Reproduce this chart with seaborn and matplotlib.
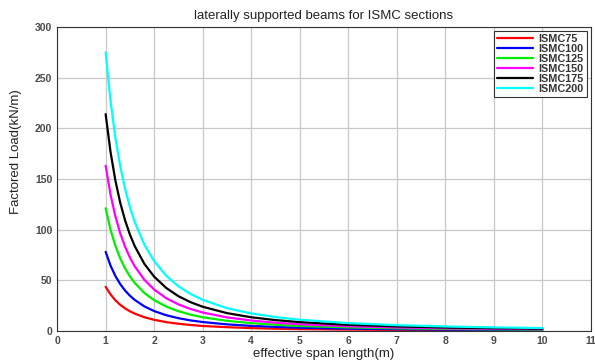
import numpy as np
import pandas as pd
import matplotlib
matplotlib.use("Agg")
import matplotlib.pyplot as plt
import seaborn as sns

span = [1, 1.1, 1.2, 1.3, 1.4, 1.5, 1.6, 1.8, 2, 2.25, 2.5, 2.75, 3, 3.5, 4, 4.5, 5, 6, 7, 8, 9, 10]
ismc75 = [43.5, 36.0, 30.2, 25.7, 22.2, 19.3, 17.0, 13.4, 10.9, 8.6, 7.0, 5.8, 4.8, 3.6, 2.7, 2.1, 1.7, 1.2, 0.9, 0.7, 0.5, 0.4]
ismc100 = [78, 64.5, 54.2, 46.2, 39.8, 34.7, 30.5, 24.1, 19.5, 15.4, 12.5, 10.3, 8.7, 6.4, 4.9, 3.9, 3.1, 2.2, 1.6, 1.2, 1.0, 0.8]
ismc125 = [121, 100, 84.0, 71.6, 61.7, 53.8, 47.3, 37.3, 30.3, 23.9, 19.4, 16.0, 13.4, 9.9, 7.6, 6.0, 4.8, 3.4, 2.5, 1.9, 1.5, 1.2]
ismc150 = [163, 134.7, 113.2, 96.4, 83.2, 72.4, 63.7, 50.3, 40.8, 32.2, 26.1, 21.6, 18.1, 13.3, 10.2, 8.0, 6.5, 4.5, 3.3, 2.5, 2.0, 1.6]
ismc175 = [214, 176.9, 148.6, 126.6, 109.2, 95.1, 83.6, 66.0, 53.5, 42.3, 34.2, 28.3, 23.8, 17.5, 13.4, 10.6, 8.6, 5.9, 4.4, 3.3, 2.6, 2.1]
ismc200 = [275, 227.3, 191.0, 162.7, 140.3, 122.2, 107.4, 84.9, 68.8, 54.3, 44.0, 36.4, 30.6, 22.4, 17.2, 13.6, 11.0, 7.6, 5.6, 4.3, 3.4, 2.8]
sections = ["ISMC75", "ISMC100", "ISMC125", "ISMC150", "ISMC175", "ISMC200"]
colors = ["#ff0000", "#0000ff", "#00ee00", "#ff00ff", "#000000", "#00ffff"]

series = [ismc75, ismc100, ismc125, ismc150, ismc175, ismc200]
rows = []
for name, vals in zip(sections, series):
    for x, y in zip(span, vals):
        rows.append({"span": x, "load": y, "section": name})
df = pd.DataFrame(rows)

sns.set_theme(style="white")
plt.rcParams['font.family'] = ['Liberation Sans', 'DejaVu Sans']

fig = plt.figure(figsize=(5.95, 3.6), dpi=100)
ax = fig.add_axes([0.096, 0.081, 0.897, 0.844])
sns.lineplot(data=df, x="span", y="load", hue="section", hue_order=sections,
             palette=colors, linewidth=1.6, ax=ax, sort=False)

ax.set_xlim(0, 11)
ax.set_ylim(0, 300)
ax.set_xticks(range(0, 12))
ax.set_yticks(range(0, 301, 50))
ax.grid(True, color="#c8c8c8", linewidth=0.9)
ax.tick_params(axis="both", direction="in", labelsize=7.5, length=3, colors="#333333",
               labelcolor="#4a4a4a")
for lab in ax.get_xticklabels() + ax.get_yticklabels():
    lab.set_fontweight("bold")
for s in ax.spines.values():
    s.set_color("#333333")
    s.set_linewidth(0.8)
ax.set_title("laterally supported beams for ISMC sections", fontsize=9.5, pad=6, color="#222222")
ax.set_xlabel("effective span length(m)", fontsize=9.5, labelpad=2, color="#222222")
ax.set_ylabel("Factored Load(kN/m)", fontsize=9.5, color="#222222")
ax.yaxis.set_label_coords(-0.066, 0.589)

leg = ax.legend(loc="upper right", frameon=True, fancybox=False,
                prop={"size": 7.8, "weight": "bold"},
                edgecolor="#333333", framealpha=1, handlelength=3.3, borderpad=0.3,
                labelspacing=0.0, handletextpad=0.5, borderaxespad=0.35)
leg.get_frame().set_linewidth(0.8)
for line in leg.get_lines():
    line.set_linewidth(1.6)
for t in leg.get_texts():
    t.set_color("#333333")

fig.savefig("out.png", dpi=100)
